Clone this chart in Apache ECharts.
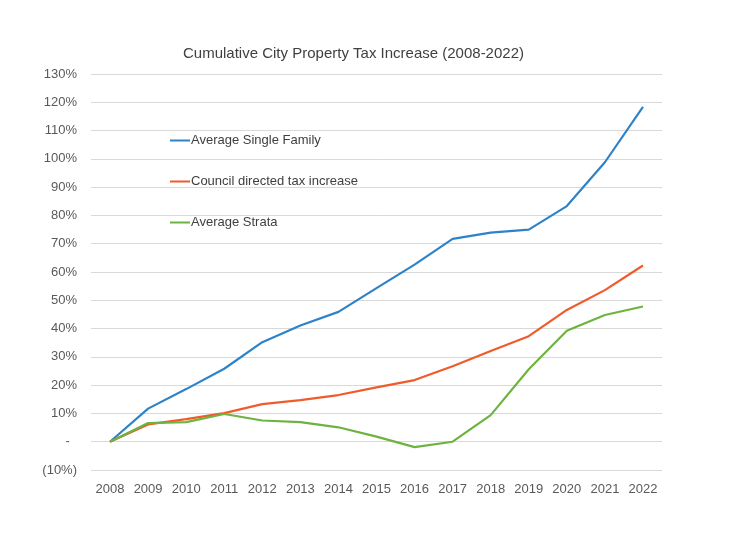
<!DOCTYPE html>
<html><head><meta charset="utf-8">
<script src="https://cdn.jsdelivr.net/npm/echarts@6/dist/echarts.min.js"></script>
<style>html,body{margin:0;padding:0;background:#fff}#c{width:729px;height:539px}</style>
</head><body><div id="c"></div>
<script>
const years = ['2008','2009','2010','2011','2012','2013','2014','2015','2016','2017','2018','2019','2020','2021','2022'];
const singleFamily = [0, 11.7, 18.6, 25.8, 35.2, 41.1, 45.9, 54.3, 62.6, 71.7, 73.9, 75.0, 83.3, 98.8, 118.4];
const council = [0, 6.1, 8.0, 10.1, 13.3, 14.7, 16.5, 19.2, 21.8, 26.7, 32.1, 37.3, 46.6, 53.6, 62.3];
const strata = [0, 6.6, 6.9, 9.8, 7.5, 6.9, 5.1, 1.8, -1.9, 0, 9.4, 25.6, 39.2, 44.8, 47.8];
const seriesNames = ['Average Single Family', 'Council directed tax increase', 'Average Strata'];
const colors = ['#2E83C8', '#EF5B2B', '#6DB33F'];

const chart = echarts.init(document.getElementById('c'), null, {renderer: 'canvas'});
const font = 'Liberation Sans, Arial, sans-serif';
chart.setOption({
  animation: false,
  title: {
    text: 'Cumulative City Property Tax Increase (2008-2022)',
    left: 178, top: 41,
    textStyle: {fontFamily: font, fontSize: 15, fontWeight: 'normal', color: '#404040'}
  },
  legend: {
    orient: 'vertical', left: 170, top: 134, padding: 0,
    itemWidth: 20, itemHeight: 14, itemGap: 28,
    icon: 'path://M0,6L20,6L20,8L0,8Z',
    data: seriesNames,
    textStyle: {fontFamily: font, fontSize: 13, color: '#404040', padding: [0,0,0,-4]}
  },
  grid: {left: 91, right: 67, top: 74, bottom: 69},
  xAxis: {
    type: 'category', data: years, boundaryGap: true,
    axisLine: {show: false}, axisTick: {show: false},
    axisLabel: {fontFamily: font, fontSize: 13, color: '#595959', margin: 13}
  },
  yAxis: {
    type: 'value', min: -10, max: 130, interval: 10,
    axisLine: {show: false}, axisTick: {show: false},
    splitLine: {lineStyle: {color: '#d9d9d9', width: 1}},
    axisLabel: {
      fontFamily: font, fontSize: 13, color: '#595959', margin: 14,
      formatter: function (v) {
        if (v === 0) return '-  ';
        if (v < 0) return '(' + Math.abs(v) + '%)';
        return v + '%';
      }
    }
  },
  series: [singleFamily, council, strata].map((d, i) => ({
    name: seriesNames[i], type: 'line', data: d, symbol: 'none',
    lineStyle: {width: 2.2, color: colors[i]}, itemStyle: {color: colors[i]}
  }))
});
</script></body></html>
